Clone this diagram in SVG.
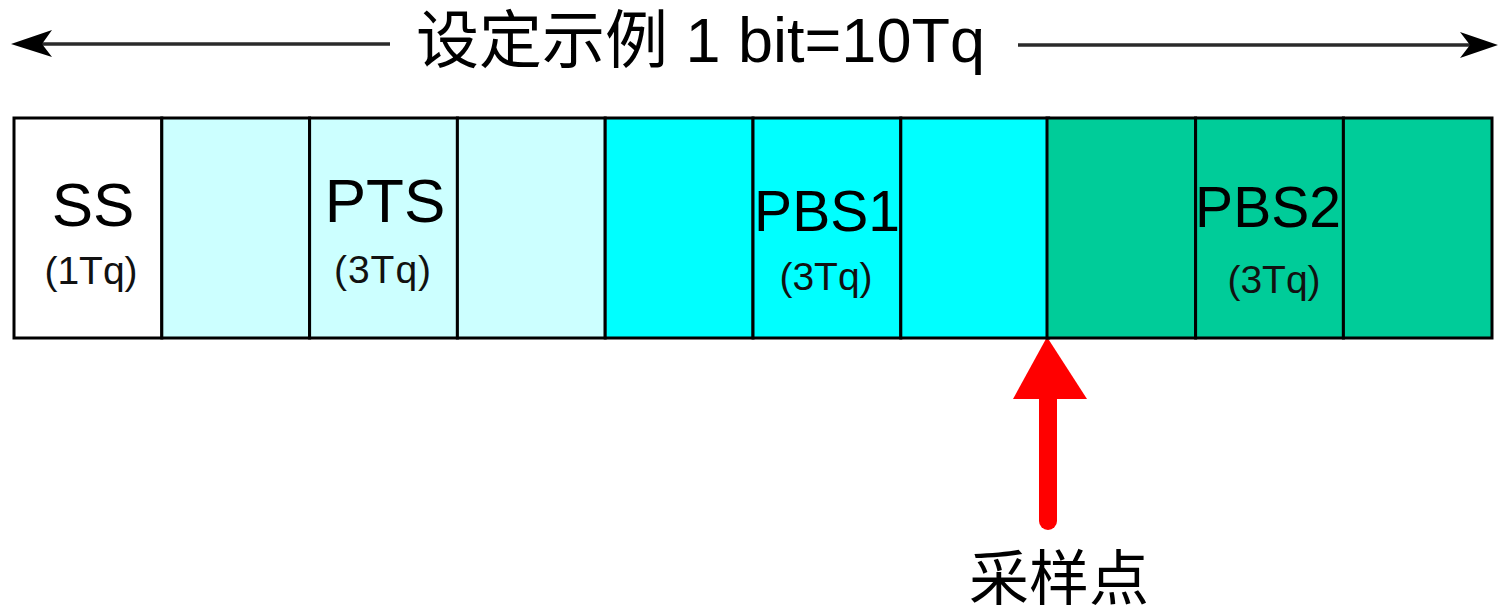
<svg xmlns="http://www.w3.org/2000/svg" width="1500" height="614" viewBox="0 0 1500 614">
<style>
text{font-family:"Liberation Sans","Noto Sans CJK SC",sans-serif;fill:#000}
.cell{stroke:#000;stroke-width:3}
.main{font-size:62px;text-anchor:middle}
.sub{font-size:39px;text-anchor:middle;fill:#111}
.dim{stroke:#2a2a2a;stroke-width:3.5;fill:none}
.head{fill:#000}
</style>
<rect width="1500" height="614" fill="#fff"/>
<g id="title">
<text x="416" y="62" style="font-size:63px">设定示例 1 bit=10Tq</text>
</g>
<g id="connectors">
<line class="dim" x1="40" y1="44" x2="390" y2="44"/>
<polygon class="head" points="11,44 52,30 42,44 52,57"/>
<line class="dim" x1="1018" y1="45" x2="1470" y2="45"/>
<polygon class="head" points="1498,45 1460,32 1470,45 1460,58"/>
<line x1="1048" y1="392" x2="1048" y2="521" stroke="#ff0000" stroke-width="18" stroke-linecap="round"/>
<polygon points="1047,337 1013,399 1087,399" fill="#ff0000"/>
</g>
<g id="cells">
<rect class="cell" x="14" y="118" width="147.8" height="220" fill="#ffffff"/>
<rect class="cell" x="161.8" y="118" width="147.8" height="220" fill="#ccffff"/>
<rect class="cell" x="309.6" y="118" width="147.8" height="220" fill="#ccffff"/>
<rect class="cell" x="457.4" y="118" width="147.8" height="220" fill="#ccffff"/>
<rect class="cell" x="605.2" y="118" width="147.8" height="220" fill="#00ffff"/>
<rect class="cell" x="753" y="118" width="147.8" height="220" fill="#00ffff"/>
<rect class="cell" x="900.8" y="118" width="147.8" height="220" fill="#00ffff"/>
<rect class="cell" x="1047" y="118" width="148.6" height="220" fill="#00cc99"/>
<rect class="cell" x="1195.6" y="118" width="147.8" height="220" fill="#00cc99"/>
<rect class="cell" x="1343.4" y="118" width="148.6" height="220" fill="#00cc99"/>
</g>
<g id="ss">
<text class="main" x="93" y="226">SS</text>
<text class="sub" x="91" y="284">(1Tq)</text>
</g>
<g id="pts">
<text class="main" x="385" y="222">PTS</text>
<text class="sub" x="383" y="283" letter-spacing="1">(3Tq)</text>
</g>
<g id="pbs1">
<text class="main" x="827" y="231" style="font-size:57px">PBS1</text>
<text class="sub" x="826" y="290">(3Tq)</text>
</g>
<g id="pbs2">
<text class="main" x="1268" y="227" style="font-size:57px">PBS2</text>
<text class="sub" x="1274" y="293">(3Tq)</text>
</g>
<g id="sample">
<text x="1059" y="600" style="font-size:60px;text-anchor:middle">采样点</text>
</g>
</svg>
